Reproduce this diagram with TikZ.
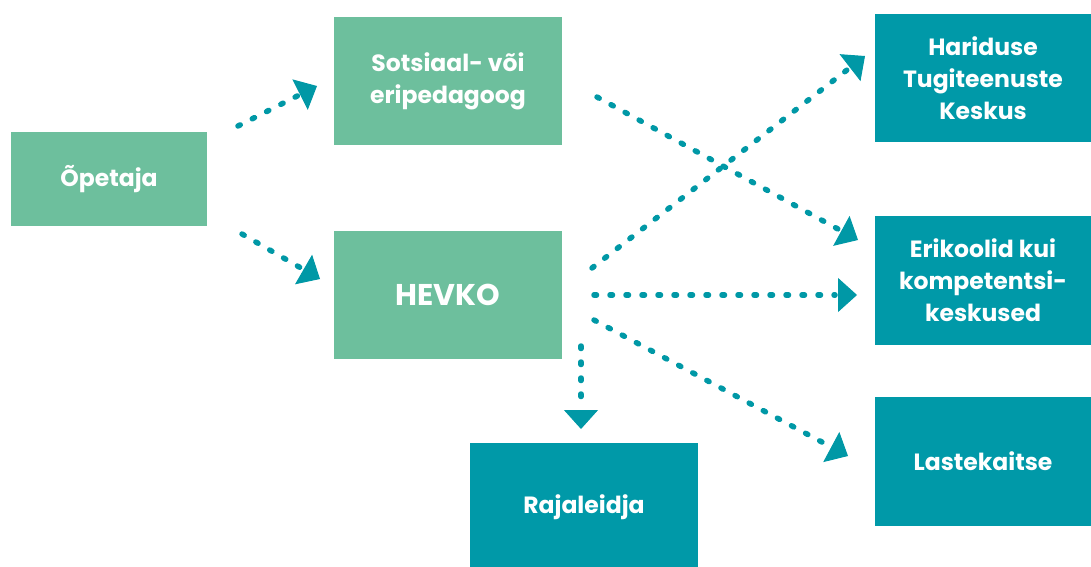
\documentclass[tikz,border=0pt]{standalone}
\usepackage{fontspec}
\setmainfont{Poppins}
\usetikzlibrary{arrows.meta,calc}
\definecolor{boxgreen}{HTML}{6DBF9D}
\definecolor{boxteal}{HTML}{0099A8}
\definecolor{arrteal}{HTML}{0098A6}
\tikzset{
  gbox/.style={fill=boxgreen, draw=none, inner sep=0pt, text=white, font=\bfseries\fontsize{23.5}{32}\selectfont, align=center},
  tbox/.style={fill=boxteal, draw=none, inner sep=0pt, text=white, font=\bfseries\fontsize{23.5}{32}\selectfont, align=center},
  dotline/.style={arrteal, line width=5.5pt, line cap=round, dash pattern=on 2.5pt off 13.5pt, shorten >=22pt},
  headonly/.style={arrteal, line width=1pt, -{Triangle[length=19pt,width=34pt]}},
}
\newcommand{\darr}[2]{\draw[dotline] (#1) -- (#2); \draw[headonly] ($(#1)!0.97!(#2)$) -- (#2);}
\begin{document}
\begin{tikzpicture}[x=1pt,y=-1pt]
\useasboundingbox (0,0) rectangle (1091,566);
\node[gbox, minimum width=196pt, minimum height=94pt] (ope) at (109,179) {Õpetaja};
\node[gbox, minimum width=228pt, minimum height=128pt] (sots) at (448,81) {Sotsiaal- või\\eripedagoog};
\node[gbox, minimum width=228pt, minimum height=128pt, font=\bfseries\fontsize{30}{32}\selectfont] (hevko) at (448,295) {HEVKO};
\node[tbox, minimum width=228pt, minimum height=128pt] (raja) at (584,507) {Rajaleidja};
\node[tbox, minimum width=216pt, minimum height=128pt] (hari) at (983,78) {Hariduse\\Tugiteenuste\\Keskus};
\node[tbox, minimum width=216pt, minimum height=129pt] (eri) at (983,280.5) {Erikoolid kui\\kompetentsi-\\keskused};
\node[tbox, minimum width=216pt, minimum height=129pt] (laste) at (983,461.5) {Lastekaitse};

\coordinate (a1s) at (238,126); \coordinate (a1e) at (317,86);
\coordinate (a2s) at (242,234); \coordinate (a2e) at (320,279);
\coordinate (a3s) at (597,97);  \coordinate (a3e) at (858,240);
\coordinate (a4s) at (592,268); \coordinate (a4e) at (865,56);
\coordinate (a5s) at (594,295); \coordinate (a5e) at (857,295);
\coordinate (a6s) at (594,320); \coordinate (a6e) at (848,456);
\coordinate (a7s) at (581,346); \coordinate (a7e) at (581,429);

\darr{a1s}{a1e}
\darr{a2s}{a2e}
\darr{a3s}{a3e}
\darr{a4s}{a4e}
\darr{a5s}{a5e}
\darr{a6s}{a6e}
\darr{a7s}{a7e}
\end{tikzpicture}
\end{document}
